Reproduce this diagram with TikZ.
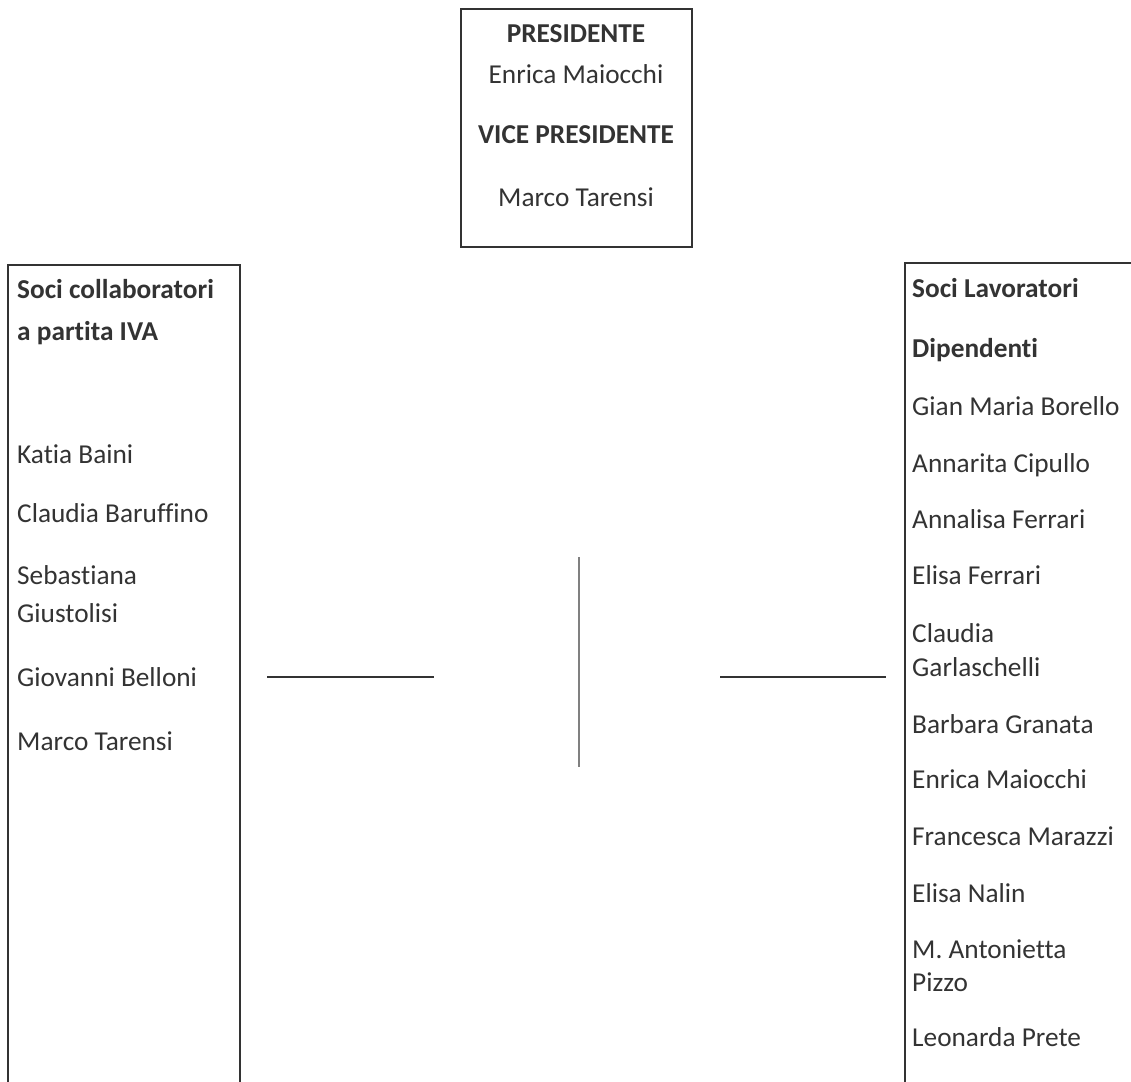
\documentclass[tikz,border=0pt]{standalone}
\usepackage{fontspec}
\setmainfont{Carlito}[Ligatures=NoCommon]
\usepackage{tikz}
\usetikzlibrary{positioning}
\definecolor{inchiostro}{HTML}{333333}
\newcommand{\corpo}{\fontsize{27.3pt}{34pt}\selectfont}
\tikzstyle{cornice}=[draw=inchiostro,line width=1.6pt]
\tikzstyle{vertice}=[rectangle,draw=inchiostro,line width=1.6pt,
minimum width=231pt,minimum height=238pt,inner sep=0pt]
\tikzstyle{carica}=[font=\corpo\bfseries,anchor=base,inner sep=0pt,text=inchiostro]
\tikzstyle{nome}=[font=\corpo,anchor=base,inner sep=0pt,text=inchiostro]
\tikzstyle{titolo}=[font=\corpo\bfseries,anchor=base west,inner sep=0pt,text=inchiostro]
\tikzstyle{socio}=[font=\corpo,anchor=base west,inner sep=0pt,text=inchiostro]
\tikzstyle{tratto}=[draw=inchiostro,line width=1.8pt]
\tikzstyle{asse}=[draw=gray,line width=1.2pt]

\begin{document}
\begin{tikzpicture}[x=1pt,y=-1pt]
\useasboundingbox (0,0) rectangle (1131,1081);
\clip (0,0) rectangle (1131,1081);
%Presidenza
\node[vertice] (pres) at (576.5,128) {};
\node[carica] (prestit) at (576,43) {PRESIDENTE};
\node[nome] (presnome) at (576,83) {Enrica Maiocchi};
\node[carica] (vicetit) at (576,143) {VICE PRESIDENTE};
\node[nome] (vicenome) at (576,206) {Marco Tarensi};
%Soci collaboratori
\draw[cornice] (8,1090) -- (8,265) -- (240,265) -- (240,1090);
\node[titolo] (coltit) at (17,298) {Soci collaboratori};
\node[titolo] (coltitb) at (17,340) {a partita IVA};
\node[socio] (baini) at (17,463) {Katia Baini};
\node[socio] (baruffino) at (17,522) {Claudia Baruffino};
\node[socio] (giustolisi) at (17,584) {Sebastiana};
\node[socio] (giustolisib) at (17,622) {Giustolisi};
\node[socio] (belloni) at (17,686) {Giovanni Belloni};
\node[socio] (tarensi) at (17,750) {Marco Tarensi};
%Soci lavoratori
\draw[cornice] (905,1090) -- (905,263) -- (1140,263);
\node[titolo] (lavtit) at (912,297) {Soci Lavoratori};
\node[titolo] (diptit) at (912,357) {Dipendenti};
\node[socio] (borello) at (912,415) {Gian Maria Borello};
\node[socio] (cipullo) at (912,472) {Annarita Cipullo};
\node[socio] (aferrari) at (912,528) {Annalisa Ferrari};
\node[socio] (eferrari) at (912,584) {Elisa Ferrari};
\node[socio] (garlaschelli) at (912,642) {Claudia};
\node[socio] (garlaschellib) at (912,676) {Garlaschelli};
\node[socio] (granata) at (912,733) {Barbara Granata};
\node[socio] (maiocchi) at (912,788) {Enrica Maiocchi};
\node[socio] (marazzi) at (912,845) {Francesca Marazzi};
\node[socio] (nalin) at (912,902) {Elisa Nalin};
\node[socio] (pizzo) at (912,958) {M. Antonietta};
\node[socio] (pizzob) at (912,991) {Pizzo};
\node[socio] (prete) at (912,1046) {Leonarda Prete};
%Tratti
\coordinate (sxa) at (267,677);
\coordinate (sxb) at (434,677);
\coordinate (alto) at (579,557);
\coordinate (basso) at (579,767);
\coordinate (dxa) at (720,677);
\coordinate (dxb) at (886,677);
\draw[tratto] (sxa) -- (sxb);
\draw[asse] (alto) -- (basso);
\draw[tratto] (dxa) -- (dxb);
\end{tikzpicture}
\end{document}
